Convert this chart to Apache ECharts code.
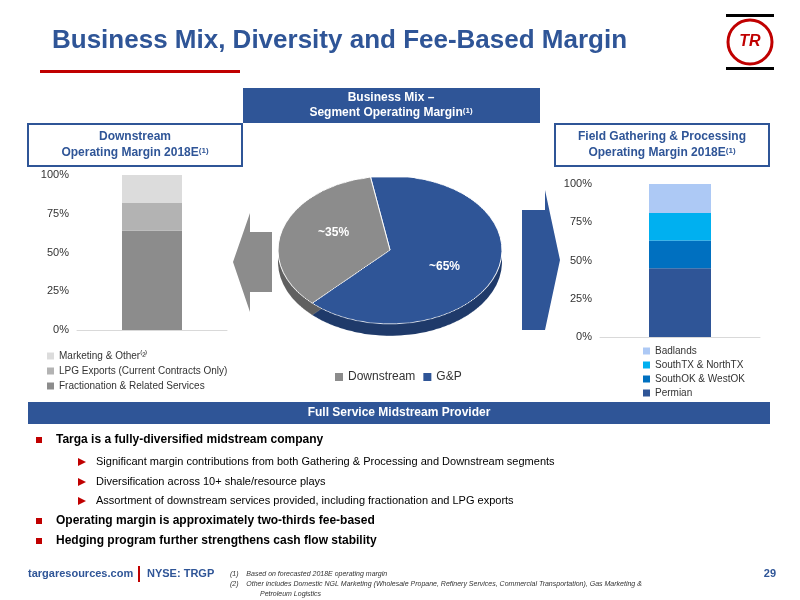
<!DOCTYPE html>
<html><head><meta charset="utf-8">
<script src="https://cdn.jsdelivr.net/npm/echarts@6/dist/echarts.min.js"></script>
<style>
body{margin:0;width:800px;height:600px;position:relative;font-family:Arial,"Liberation Sans",sans-serif;background:#fff;overflow:hidden}
#main{position:absolute;left:0;top:0;width:800px;height:600px}
#pie{position:absolute;left:240px;top:140px;width:300px;height:240px;transform:scaleY(0.66);transform-origin:150px 110px}
#ov{position:absolute;left:0;top:0;width:800px;height:600px}
</style></head><body>
<div id="main"></div>
<div id="pie"></div>
<div id="ov"></div>
<script>
const pctTicks = ['0%','25%','50%','75%','100%'];
const downCats = ['Fractionation & Related Services','LPG Exports (Current Contracts Only)','Marketing & Other⁽²⁾'];
const downVals = [64,18,18];
const downColors = ['#8c8c8c','#b3b3b3','#dcdcdc'];
const gpCats = ['Permian','SouthOK & WestOK','SouthTX & NorthTX','Badlands'];
const gpVals = [45,18,18,19];
const gpColors = ['#2f5597','#0070c0','#00b0f0','#adc9f5'];
const pieCats = ['G&P','Downstream'];
const pieVals = [65,35];
const pieColors = ['#2f5597','#8c8c8c'];
const pieSide = ['#1f3a6a','#606060'];
const bullets = [
 ['Targa is a fully-diversified midstream company',0],
 ['Significant margin contributions from both Gathering & Processing and Downstream segments',1],
 ['Diversification across 10+ shale/resource plays',1],
 ['Assortment of downstream services provided, including fractionation and LPG exports',1],
 ['Operating margin is approximately two-thirds fee-based',0],
 ['Hedging program further strengthens cash flow stability',0]
];
const blue='#2f5597';
const chart = echarts.init(document.getElementById('main'));
const series=[];
downCats.forEach((c,i)=>series.push({name:c,type:'bar',stack:'d',xAxisIndex:0,yAxisIndex:0,barWidth:60,data:[downVals[i]],itemStyle:{color:downColors[i]},silent:true}));
gpCats.forEach((c,i)=>series.push({name:c,type:'bar',stack:'g',xAxisIndex:1,yAxisIndex:1,barWidth:62,data:[gpVals[i]],itemStyle:{color:gpColors[i]},silent:true}));
const yAx=(gi)=>({type:'value',gridIndex:gi,min:0,max:100,interval:25,axisLabel:{formatter:v=>v+'%',color:'#333',fontSize:11},splitLine:{show:false},axisLine:{show:false},axisTick:{show:false}});
const xAx=(gi)=>({type:'category',gridIndex:gi,data:['2018E'],axisLabel:{show:false},axisTick:{show:false},axisLine:{lineStyle:{color:'#d9d9d9'}}});
const g=[];
g.push({type:'text',left:52,top:28,style:{text:'Business Mix, Diversity and Fee-Based Margin',fill:blue,font:'bold 26px Arial'}});
g.push({type:'rect',shape:{x:40,y:70,width:200,height:3},style:{fill:'#c00000'}});
g.push({type:'circle',shape:{cx:750,cy:42,r:22},style:{fill:'#fff',stroke:'#c00000',lineWidth:3}});
g.push({type:'text',x:750,y:42,style:{text:'TR',fill:'#c00000',font:'bold italic 16px Arial',align:'center',verticalAlign:'middle'}});
g.push({type:'rect',shape:{x:726,y:14,width:48,height:3},style:{fill:'#000'}});
g.push({type:'rect',shape:{x:726,y:67,width:48,height:3},style:{fill:'#000'}});
g.push({type:'rect',shape:{x:243,y:88,width:297,height:35},style:{fill:blue}});
g.push({type:'text',x:391,y:98,style:{text:'Business Mix –',fill:'#fff',font:'bold 12px Arial',align:'center',verticalAlign:'middle'}});
g.push({type:'text',x:391,y:113,style:{text:'Segment Operating Margin{s|(1)}',fill:'#fff',font:'bold 12px Arial',align:'center',verticalAlign:'middle',rich:{s:{fontSize:8,fontWeight:'bold',fill:'#fff',verticalAlign:'top'}}}});
[[28,'Downstream','Operating Margin 2018E'],[555,'Field Gathering & Processing','Operating Margin 2018E']].forEach(([x,a,b])=>{
 g.push({type:'rect',shape:{x:x,y:124,width:214,height:42},style:{fill:'#fff',stroke:blue,lineWidth:2}});
 g.push({type:'text',x:x+107,y:137,style:{text:a,fill:blue,font:'bold 12px Arial',align:'center',verticalAlign:'middle'}});
 g.push({type:'text',x:x+107,y:153,style:{text:b+'{s|(1)}',fill:blue,font:'bold 12px Arial',align:'center',verticalAlign:'middle',rich:{s:{fontSize:8,fontWeight:'bold',fill:blue,verticalAlign:'top'}}}});
});
g.push({type:'polygon',shape:{points:[[233,262],[250,213],[250,232],[272,232],[272,292],[250,292],[250,312]]},style:{fill:'#8c8c8c'}});
g.push({type:'polygon',shape:{points:[[522,210],[545,210],[545,190],[560,260],[545,330],[522,330]]},style:{fill:blue}});
g.push({type:'rect',shape:{x:28,y:402,width:742,height:22},style:{fill:blue}});
g.push({type:'text',x:399,y:413,style:{text:'Full Service Midstream Provider',fill:'#fff',font:'bold 12px Arial',align:'center',verticalAlign:'middle'}});
const ys=[440,462,482,501,521,541];
bullets.forEach(([t,l],i)=>{
 if(l===0){g.push({type:'rect',shape:{x:36,y:ys[i]-3,width:6,height:6},style:{fill:'#c00000'}});
  g.push({type:'text',x:56,y:ys[i],style:{text:t,fill:'#000',font:'bold 12px Arial',verticalAlign:'middle'}});}
 else{g.push({type:'polygon',shape:{points:[[78,ys[i]-4],[86,ys[i]],[78,ys[i]+4]]},style:{fill:'#c00000'}});
  g.push({type:'text',x:96,y:ys[i],style:{text:t,fill:'#000',font:'11px Arial',verticalAlign:'middle'}});}
});
g.push({type:'text',x:28,y:574,style:{text:'targaresources.com',fill:blue,font:'bold 11px Arial',verticalAlign:'middle'}});
g.push({type:'rect',shape:{x:138,y:566,width:2,height:16},style:{fill:'#c00000'}});
g.push({type:'text',x:147,y:574,style:{text:'NYSE: TRGP',fill:blue,font:'bold 11px Arial',verticalAlign:'middle'}});
g.push({type:'text',x:230,y:574,style:{text:'(1)    Based on forecasted 2018E operating margin',fill:'#333',font:'italic 7px Arial',verticalAlign:'middle'}});
g.push({type:'text',x:230,y:584,style:{text:'(2)    Other includes Domestic NGL Marketing (Wholesale Propane, Refinery Services, Commercial Transportation), Gas Marketing &',fill:'#333',font:'italic 7px Arial',verticalAlign:'middle'}});
g.push({type:'text',x:260,y:594,style:{text:'Petroleum Logistics',fill:'#333',font:'italic 7px Arial',verticalAlign:'middle'}});
g.push({type:'text',x:776,y:574,style:{text:'29',fill:blue,font:'bold 11px Arial',align:'right',verticalAlign:'middle'}});
chart.setOption({
 animation:false,
 grid:[{left:77,top:175,width:150,height:155},{left:600,top:184,width:160,height:153}],
 xAxis:[xAx(0),xAx(1)],
 yAxis:[yAx(0),yAx(1)],
 legend:[
  {data:downCats.slice().reverse(),orient:'vertical',left:42,top:346,itemWidth:7,itemHeight:7,itemGap:5,textStyle:{fontSize:10,color:'#333'},icon:'rect',selectedMode:false},
  {data:gpCats.slice().reverse(),orient:'vertical',left:638,top:341,itemWidth:7,itemHeight:7,itemGap:4,textStyle:{fontSize:10,color:'#333'},icon:'rect',selectedMode:false}
 ],
 series:series,
 graphic:g
});
const pie=echarts.init(document.getElementById('pie'));
const pieData=(cols)=>pieCats.map((c,i)=>({name:c,value:pieVals[i],itemStyle:{color:cols[i]}}));
pie.setOption({animation:false,
 series:[
  {type:'pie',center:[150,128],radius:[0,112],startAngle:100,silent:true,data:pieData(pieSide),label:{show:false},labelLine:{show:false}},
  {type:'pie',center:[150,110],radius:[0,112],startAngle:100,silent:true,data:pieData(pieColors),itemStyle:{borderColor:'#fff',borderWidth:1},label:{show:false},labelLine:{show:false}}
 ]});
const ov=echarts.init(document.getElementById('ov'));
ov.setOption({animation:false,
 legend:{data:[{name:'Downstream',itemStyle:{color:pieColors[1]}},{name:'G&P',itemStyle:{color:pieColors[0]}}],left:330,top:366,itemWidth:8,itemHeight:8,icon:'rect',textStyle:{fontSize:12,color:'#333'},selectedMode:false},
 series:[{type:'pie',center:[389,250],radius:[0,110],startAngle:100,silent:true,
  data:pieCats.map((c,i)=>({name:c,value:pieVals[i],itemStyle:{color:'rgba(0,0,0,0)'}})),
  label:{position:'inside',formatter:p=>'~'+p.value+'%',color:'#fff',fontSize:12,fontWeight:'bold'},labelLine:{show:false}}]});
</script></body></html>
